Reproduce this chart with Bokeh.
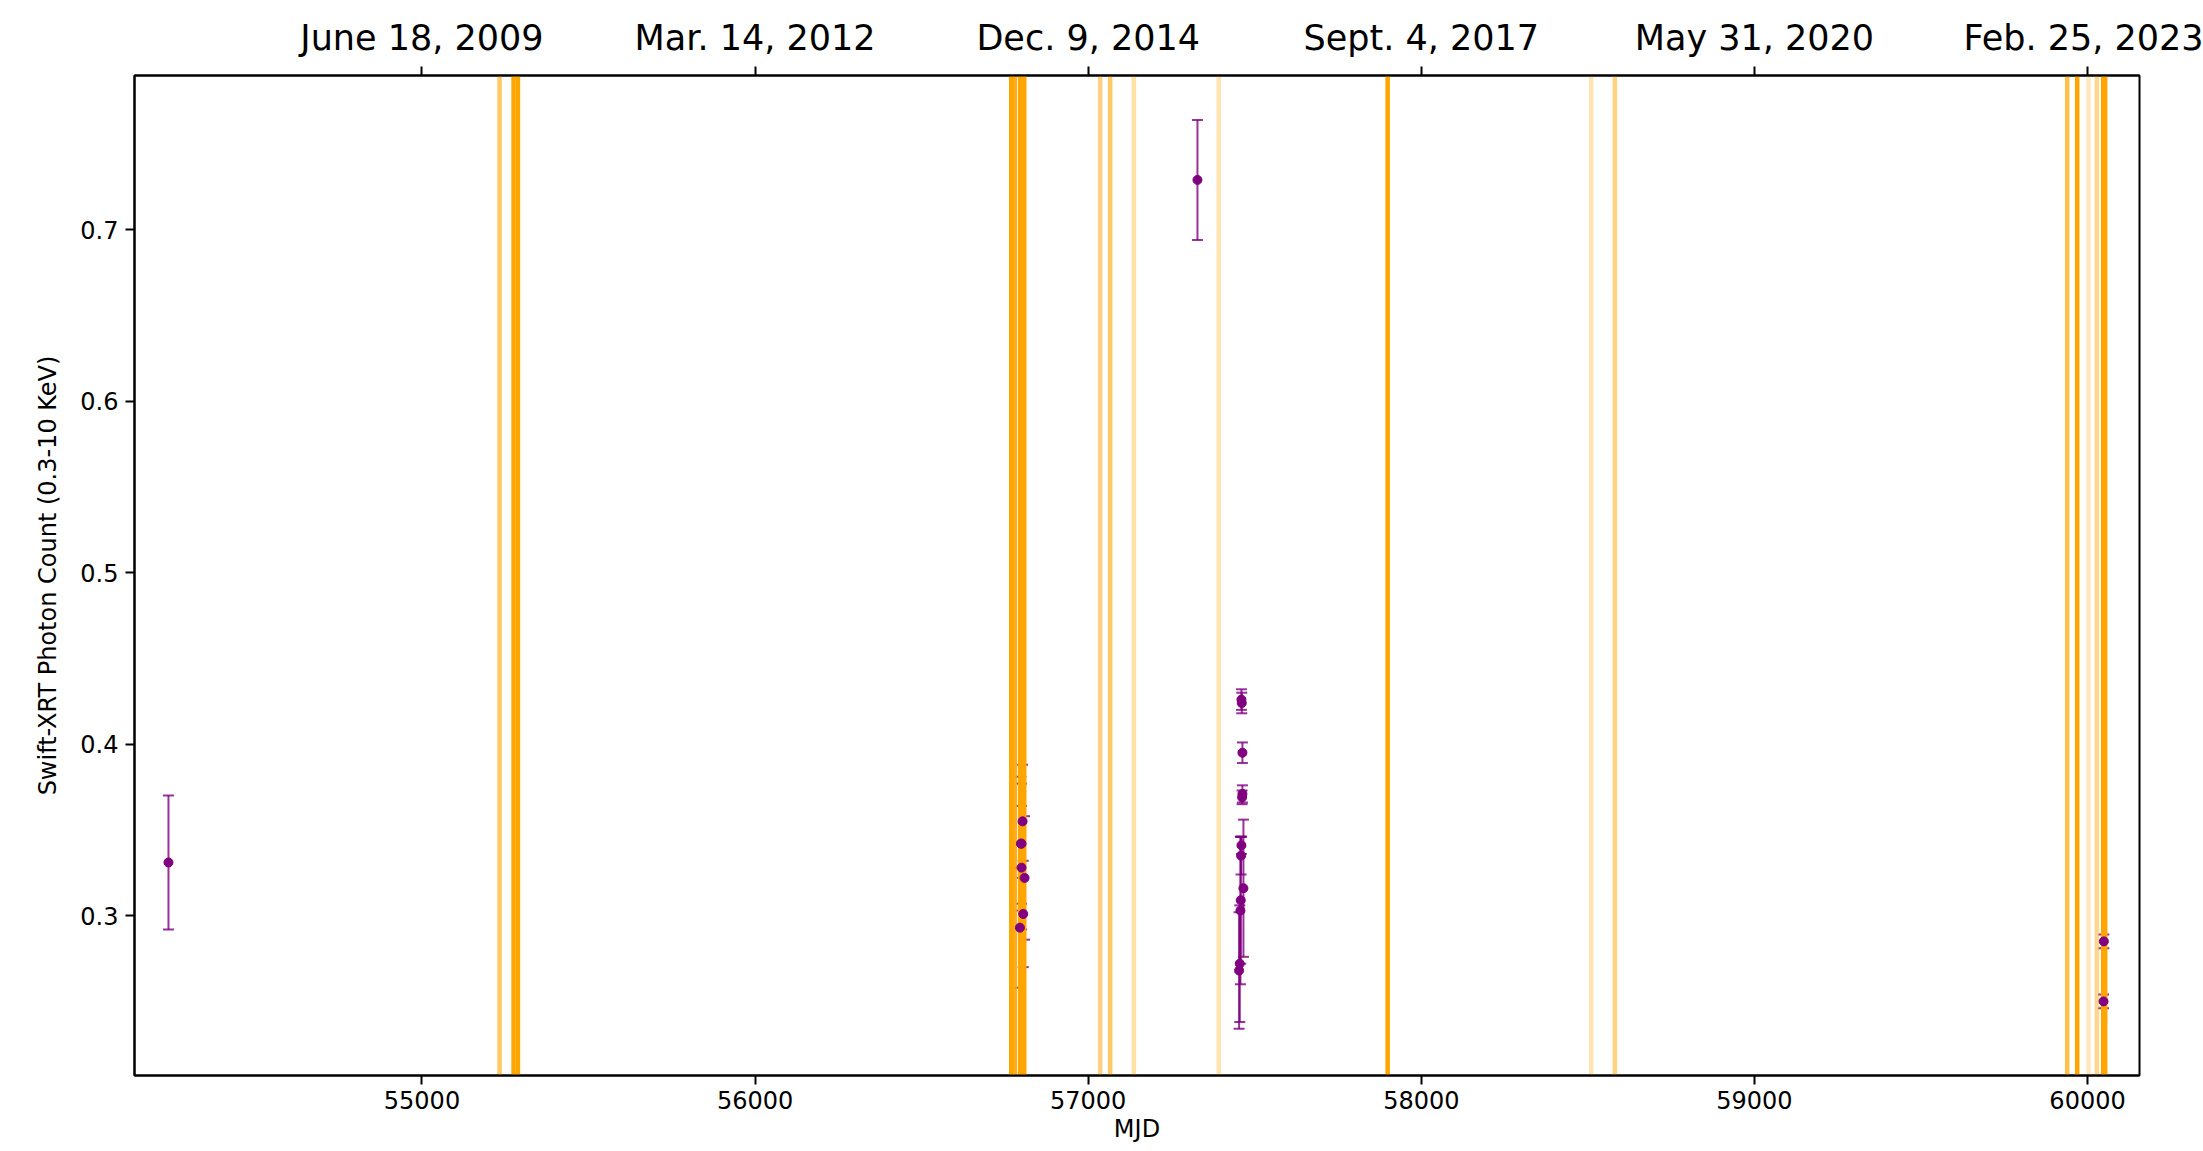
from bokeh.plotting import figure
from bokeh.models import Range1d, LinearAxis, FixedTicker, ColumnDataSource
from bokeh.embed import file_html
from bokeh.resources import INLINE

# Swift-XRT photon counts (0.3-10 keV)
obs_mjd = [54239, 56803, 56798, 56800, 56809, 56805, 56795, 56800,
           57328,
           57460, 57461, 57463, 57463, 57462, 57460, 57459, 57466, 57458, 57457, 57455, 57453,
           60049, 60048]
obs_rate = [0.331, 0.355, 0.342, 0.342, 0.322, 0.301, 0.293, 0.328,
            0.729,
            0.426, 0.424, 0.395, 0.371, 0.369, 0.341, 0.335, 0.316, 0.309, 0.303, 0.272, 0.268,
            0.285, 0.250]
obs_err = [0.039, 0.033, 0.039, 0.035, 0.036, 0.031, 0.035, 0.036,
           0.035,
           0.006, 0.006, 0.006, 0.005, 0.004, 0.005, 0.011, 0.040, 0.037, 0.043, 0.034, 0.034,
           0.004, 0.004]

# Epochs marked as vertical bands, with their opacity
event_mjd = [55233, 55275, 55288,
             56769, 56780, 56796, 56808,
             57036, 57066, 57137, 57392,
             57899,
             58510, 58581,
             59939, 59969, 60003, 60028, 60047, 60053]
event_alpha = [0.6, 1.0, 1.0,
               1.0, 0.9, 1.0, 1.0,
               0.5, 0.6, 0.35, 0.3,
               1.0,
               0.3, 0.5,
               0.7, 1.0, 0.25, 0.45, 1.0, 1.0]

# Axis ticks
x_ticks = [55000, 56000, 57000, 58000, 59000, 60000]
date_labels = ["June 18, 2009", "Mar. 14, 2012", "Dec. 9, 2014",
               "Sept. 4, 2017", "May 31, 2020", "Feb. 25, 2023"]
y_ticks = [0.3, 0.4, 0.5, 0.6, 0.7]

X_MIN, X_MAX = 54137, 60156
Y_MIN, Y_MAX = 0.2068, 0.7899

p = figure(width=2203, height=1151, output_backend="svg", toolbar_location=None,
           x_range=Range1d(X_MIN, X_MAX), y_range=Range1d(Y_MIN, Y_MAX),
           min_border_left=134, min_border_right=64, min_border_top=75, min_border_bottom=76)
p.background_fill_color = "white"
p.border_fill_color = "white"
p.outline_line_color = "black"
p.outline_line_width = 2
p.xgrid.visible = False
p.ygrid.visible = False

FONT = "DejaVu Sans"


def style_axis(ax, size):
    ax.axis_line_color = "black"
    ax.axis_line_width = 2
    ax.major_tick_line_color = "black"
    ax.major_tick_line_width = 2
    ax.major_tick_out = 9
    ax.major_tick_in = 0
    ax.minor_tick_line_color = None
    ax.major_label_text_font = FONT
    ax.major_label_text_font_size = size
    ax.major_label_text_color = "black"
    ax.axis_label_text_font = FONT
    ax.axis_label_text_font_size = "24px"
    ax.axis_label_text_font_style = "normal"
    ax.axis_label_text_color = "black"


xa = p.xaxis[0]
xa.ticker = FixedTicker(ticks=x_ticks)
xa.axis_label = "MJD"
style_axis(xa, "24px")
xa.major_label_standoff = 6
xa.axis_label_standoff = 3

ya = p.yaxis[0]
ya.ticker = FixedTicker(ticks=y_ticks)
ya.axis_label = "Swift-XRT Photon Count (0.3-10 KeV)"
style_axis(ya, "24px")
ya.major_label_standoff = 7
ya.axis_label_standoff = 15

top = LinearAxis(ticker=FixedTicker(ticks=x_ticks),
                 major_label_overrides={t: lab for t, lab in zip(x_ticks, date_labels)})
style_axis(top, "35px")
top.major_label_standoff = 9
p.add_layout(top, "above")

# Error bars with caps
src = ColumnDataSource(dict(
    x=obs_mjd, y=obs_rate,
    lo=[r - e for r, e in zip(obs_rate, obs_err)],
    hi=[r + e for r, e in zip(obs_rate, obs_err)],
))
p.segment(x0="x", y0="lo", x1="x", y1="hi", source=src,
          line_color="purple", line_alpha=0.8, line_width=2)
p.scatter(x="x", y="lo", source=src, marker="dash", size=11,
          line_color="purple", line_alpha=0.8, line_width=2)
p.scatter(x="x", y="hi", source=src, marker="dash", size=11,
          line_color="purple", line_alpha=0.8, line_width=2)

# Vertical epoch lines spanning the full height
ev = ColumnDataSource(dict(x=event_mjd, a=event_alpha,
                           y0=[0.0] * len(event_mjd), y1=[1.0] * len(event_mjd)))
p.segment(x0="x", y0="y0", x1="x", y1="y1", source=ev,
          line_color="orange", line_alpha="a", line_width=4.5)

# Data points on top
p.scatter(x="x", y="y", source=src, marker="circle", size=9,
          fill_color="purple", line_color="purple")

open("out.html", "w").write(file_html(p, INLINE))
